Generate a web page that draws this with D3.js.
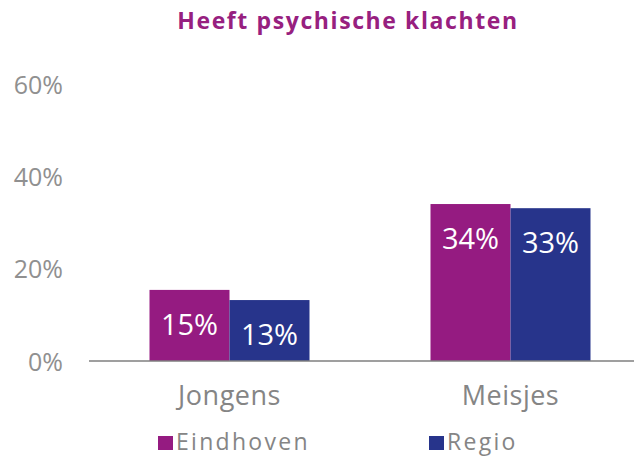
<!DOCTYPE html>
<html><head><meta charset="utf-8">
<script src="https://cdn.jsdelivr.net/npm/d3@7"></script>
<style>body{margin:0;background:#fff}svg{display:block}text{font-family:"Open Sans","DejaVu Sans",sans-serif}</style>
</head><body><svg id="c" width="634" height="457"></svg>
<script>
const title = "Heeft psychische klachten";
const categories = ["Jongens", "Meisjes"];
const seriesNames = ["Eindhoven", "Regio"];
const eindhoven = [15.4, 34.0];
const regio = [13.2, 33.1];
const yTicks = [0, 20, 40, 60];
const colors = ["#951b81", "#27348b"];

const seriesValues = [eindhoven, regio];
const svg = d3.select("#c");
const y = d3.scaleLinear().domain([0, 60]).range([361, 84]);
const x0 = d3.scaleBand().domain(categories).range([89, 651]);
const x1 = d3.scaleBand().domain(seriesNames).range([0, 160]);
const off = (x0.bandwidth() - x1.range()[1]) / 2;

svg.append("text").attr("x", 348).attr("y", 29).attr("text-anchor", "middle")
  .attr("font-size", 23).attr("font-weight", "bold").attr("letter-spacing", 1.6)
  .attr("fill", "#97207f").text(title);

const yAxis = svg.append("g").attr("transform", "translate(63,0)")
  .call(d3.axisLeft(y).tickValues(yTicks).tickFormat(d => d + "%").tickSize(0).tickPadding(0));
yAxis.select(".domain").remove();
yAxis.selectAll("text").attr("font-size", 25).attr("fill", "#909090").attr("font-family", null).attr("dy", "0.36em");

categories.forEach((c, i) => {
  const g = svg.append("g").attr("transform", `translate(${x0(c) + off},0)`);
  seriesNames.forEach((s, j) => {
    const v = seriesValues[j][i];
    g.append("rect").attr("x", x1(s)).attr("width", x1.bandwidth())
      .attr("y", y(v)).attr("height", y(0) - y(v)).attr("fill", colors[j]);
    g.append("text").attr("x", x1(s) + x1.bandwidth() / 2).attr("y", y(v) + 45)
      .attr("text-anchor", "middle").attr("font-size", 29).attr("fill", "#fff")
      .text(Math.round(v) + "%");
  });
});

const xAxis = svg.append("g").attr("transform", "translate(0,361)")
  .call(d3.axisBottom(x0).tickSize(0).tickPadding(0));
xAxis.select(".domain").attr("d", "M89,0H634").attr("stroke", "#7f7f7f").attr("stroke-width", 1.5);
xAxis.selectAll("text").attr("font-size", 27).attr("fill", "#858585").attr("font-family", null)
  .attr("letter-spacing", 0.5).attr("dy", 0).attr("y", 44);

const leg = svg.append("g");
const legX = [158, 429];
seriesNames.forEach((s, j) => {
  leg.append("rect").attr("x", legX[j]).attr("y", 436).attr("width", 15).attr("height", 14).attr("fill", colors[j]);
  leg.append("text").attr("x", legX[j] + 18).attr("y", 450).attr("font-size", 23)
    .attr("letter-spacing", 2.3).attr("fill", "#858585").text(s);
});
</script></body></html>
